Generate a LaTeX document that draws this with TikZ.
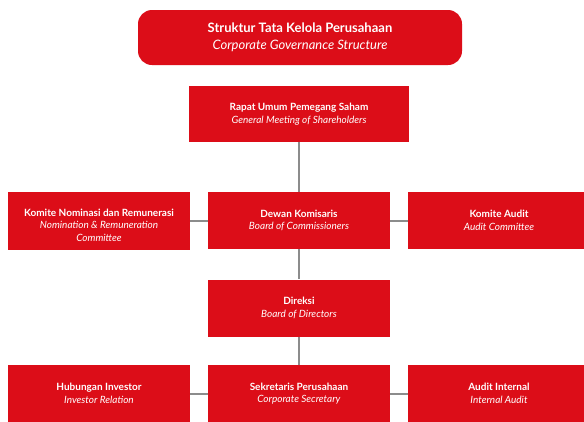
\documentclass[tikz,border=0pt]{standalone}
\usepackage{fontspec}
\setmainfont{Lato}
\begin{document}
\begin{tikzpicture}[x=1pt,y=-1pt,
  orgbox/.style={fill=govred, text=white, minimum width=182pt, minimum height=57pt,
    inner sep=0pt, align=center, font=\fontsize{10}{12.5}\selectfont},
  boxtext/.style={text=white, inner sep=0pt, align=center, font=\fontsize{10}{12.5}\selectfont},
  link/.style={draw=linkgray, line width=2pt}]
\definecolor{govred}{RGB}{220,13,24}
\definecolor{linkgray}{RGB}{140,140,140}
\useasboundingbox (0,0) rectangle (584,421);
\clip (0,0) rectangle (584,421);
\fill[white] (0,0) rectangle (584,421);

% title banner
\node[fill=govred, text=white, rounded corners=14pt, minimum width=324pt, minimum height=55pt,
  inner sep=0pt, align=center, font=\fontsize{13}{16.5}\selectfont] (title) at (300,37.5)
  {\textbf{Struktur Tata Kelola Perusahaan}\\\textit{Corporate Governance Structure}};

% organs
\node[orgbox, minimum width=220pt, minimum height=56pt] (rups) at (299,114)
  {\textbf{Rapat Umum Pemegang Saham}\\\textit{General Meeting of Shareholders}};
\node[orgbox] (dk) at (299,220.5)
  {\textbf{Dewan Komisaris}\\\textit{Board of Commissioners}};
\node[orgbox, minimum height=58pt] (knr) at (99,220.5) {};
\node[boxtext] (knrtext) at ([yshift=-4.5pt]knr.center)
  {\textbf{Komite Nominasi dan Remunerasi}\\\textit{Nomination \& Remuneration}\\\textit{Committee}};
\node[orgbox] (ka) at (499,220.5)
  {\textbf{Komite Audit}\\\textit{Audit Committee}};
\node[orgbox] (dir) at (299,308)
  {\textbf{Direksi}\\\textit{Board of Directors}};
\node[orgbox] (hi) at (99,393.5)
  {\textbf{Hubungan Investor}\\\textit{Investor Relation}};
\node[orgbox] (sp) at (299,393.5)
  {\textbf{Sekretaris Perusahaan}\\\textit{Corporate Secretary}};
\node[orgbox] (ai) at (499,393.5)
  {\textbf{Audit Internal}\\\textit{Internal Audit}};

% reporting lines
\draw[link] (rups) -- (dk);
\draw[link] (dk) -- (dir);
\draw[link] (dir) -- (sp);
\draw[link] (knr) -- (dk);
\draw[link] (dk) -- (ka);
\draw[link] (hi) -- (sp);
\draw[link] (sp) -- (ai);
\end{tikzpicture}
\end{document}
